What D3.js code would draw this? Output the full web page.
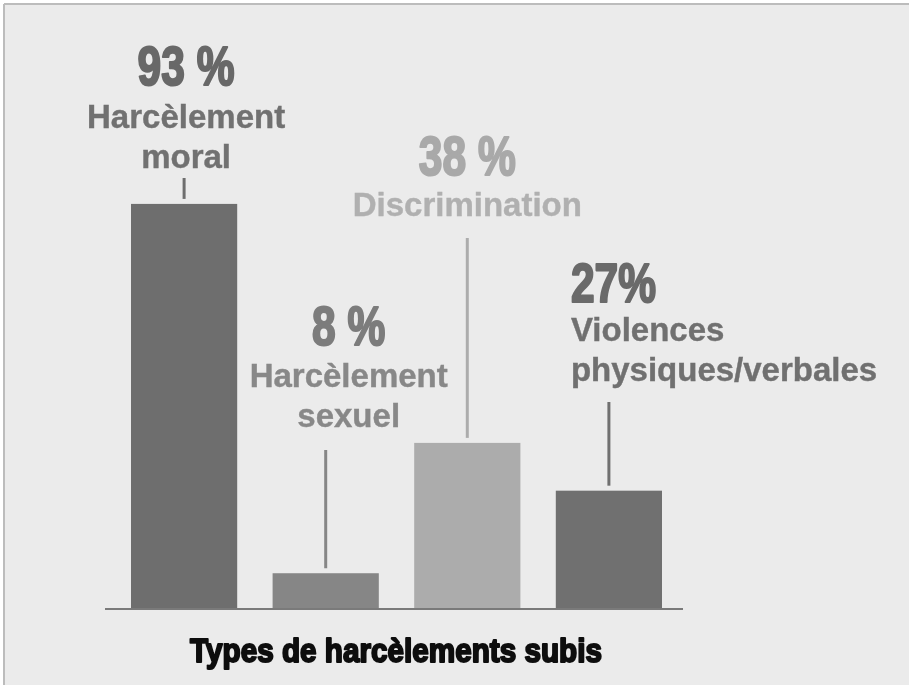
<!DOCTYPE html>
<html lang="fr">
<head>
<meta charset="utf-8">
<script src="https://cdn.jsdelivr.net/npm/d3@7"></script>
<style>
  html, body { margin: 0; padding: 0; background: #ffffff; }
  svg { display: block; }
</style>
</head>
<body>
<svg id="chart" width="909" height="685"></svg>
<script>
// Types de harcèlements subis — share of respondents (%)
const categories = ["Harcèlement moral", "Harcèlement sexuel", "Discrimination", "Violences physiques/verbales"];
const values = [93, 8, 38, 27];
const percentLabels = ["93 %", "8 %", "38 %", "27%"];
const labelLines = [
  ["Harcèlement", "moral"],
  ["Harcèlement", "sexuel"],
  ["Discrimination"],
  ["Violences", "physiques/verbales"]
];
const chartTitle = "Types de harcèlements subis";

// Presentation: fill per bar and text tones
const barColors = ["#6e6e6e", "#868686", "#acacac", "#6f6f6f"];
const pctColors = ["#686868", "#7c7c7c", "#a9a9a9", "#6a6a6a"];
const textColors = ["#717171", "#888888", "#b0b0b0", "#707070"];

// Label placement per bar: horizontal offset from bar centre, anchor,
// baseline of the percentage, baseline of first label line, top of leader line
const labelLayout = [
  { dx: 2,   anchor: "middle", pctY: 85,  textY: 128, lineTop: 178 },
  { dx: 23,  anchor: "middle", pctY: 345, textY: 387, lineTop: 450 },
  { dx: 0,   anchor: "middle", pctY: 175, textY: 216, lineTop: 238 },
  { dx: -38, anchor: "start",  pctY: 302, textY: 341, lineTop: 402 }
];

const svg = d3.select("#chart");
const W = 909, H = 685;
const baseY = 608;

const defs = svg.append("defs");
defs.append("filter").attr("id", "soft")
  .append("feGaussianBlur").attr("stdDeviation", 0.55);

// panel
svg.append("rect").attr("width", W).attr("height", H).attr("fill", "#ffffff");
svg.append("rect").attr("x", 4).attr("y", 4).attr("width", W - 4).attr("height", H - 4).attr("fill", "#ebebeb");
svg.append("line").attr("x1", 4).attr("x2", W).attr("y1", 4).attr("y2", 4)
  .attr("stroke", "#bcbcbc").attr("stroke-width", 2);
svg.append("line").attr("x1", 4).attr("x2", 4).attr("y1", 4).attr("y2", H)
  .attr("stroke", "#bcbcbc").attr("stroke-width", 2);

const g = svg.append("g").attr("filter", "url(#soft)");

const x = d3.scaleBand()
  .domain(categories)
  .range([131, 662])
  .paddingInner(0.25)
  .paddingOuter(0);

const y = d3.scaleLinear()
  .domain([0, 100])
  .range([baseY, baseY - 434.5]);

// bars
g.selectAll("rect.bar")
  .data(categories)
  .join("rect")
  .attr("class", "bar")
  .attr("x", d => x(d))
  .attr("width", x.bandwidth())
  .attr("y", (d, i) => y(values[i]))
  .attr("height", (d, i) => y(0) - y(values[i]))
  .attr("fill", (d, i) => barColors[i]);

// baseline
g.append("line")
  .attr("x1", 105).attr("x2", 683)
  .attr("y1", baseY + 1).attr("y2", baseY + 1)
  .attr("stroke", "#7a7a7a").attr("stroke-width", 2);

// leader lines from labels to bar tops
g.selectAll("line.leader")
  .data(categories)
  .join("line")
  .attr("class", "leader")
  .attr("x1", d => x(d) + x.bandwidth() / 2)
  .attr("x2", d => x(d) + x.bandwidth() / 2)
  .attr("y1", (d, i) => labelLayout[i].lineTop)
  .attr("y2", (d, i) => y(values[i]) - 5)
  .attr("stroke", (d, i) => barColors[i])
  .attr("stroke-width", 3);

// percentage labels (condensed, heavy)
categories.forEach((c, i) => {
  const L = labelLayout[i];
  const cx = x(c) + x.bandwidth() / 2 + L.dx;
  g.append("text")
    .attr("transform", `translate(${cx},${L.pctY}) scale(0.76,1)`)
    .attr("text-anchor", L.anchor)
    .attr("font-family", "'Liberation Sans', Arial, sans-serif")
    .attr("font-weight", 700)
    .attr("font-size", 56)
    .attr("fill", pctColors[i])
    .attr("stroke", pctColors[i])
    .attr("stroke-width", 2.2)
    .attr("stroke-linejoin", "round")
    .text(percentLabels[i]);

  labelLines[i].forEach((line, k) => {
    g.append("text")
      .attr("x", cx)
      .attr("y", L.textY + k * 40)
      .attr("text-anchor", L.anchor)
      .attr("font-family", "'Liberation Sans', Arial, sans-serif")
      .attr("font-weight", 700)
      .attr("font-size", 33)
      .attr("fill", textColors[i])
      .attr("stroke", textColors[i])
      .attr("stroke-width", 0.4)
      .text(line);
  });
});

// title
g.append("text")
  .attr("transform", "translate(396,662) scale(0.9,1)")
  .attr("text-anchor", "middle")
  .attr("font-family", "'Liberation Sans', Arial, sans-serif")
  .attr("font-weight", 700)
  .attr("font-size", 33)
  .attr("fill", "#111111")
  .attr("stroke", "#111111")
  .attr("stroke-width", 2)
  .attr("stroke-linejoin", "round")
  .text(chartTitle);
</script>
</body>
</html>
